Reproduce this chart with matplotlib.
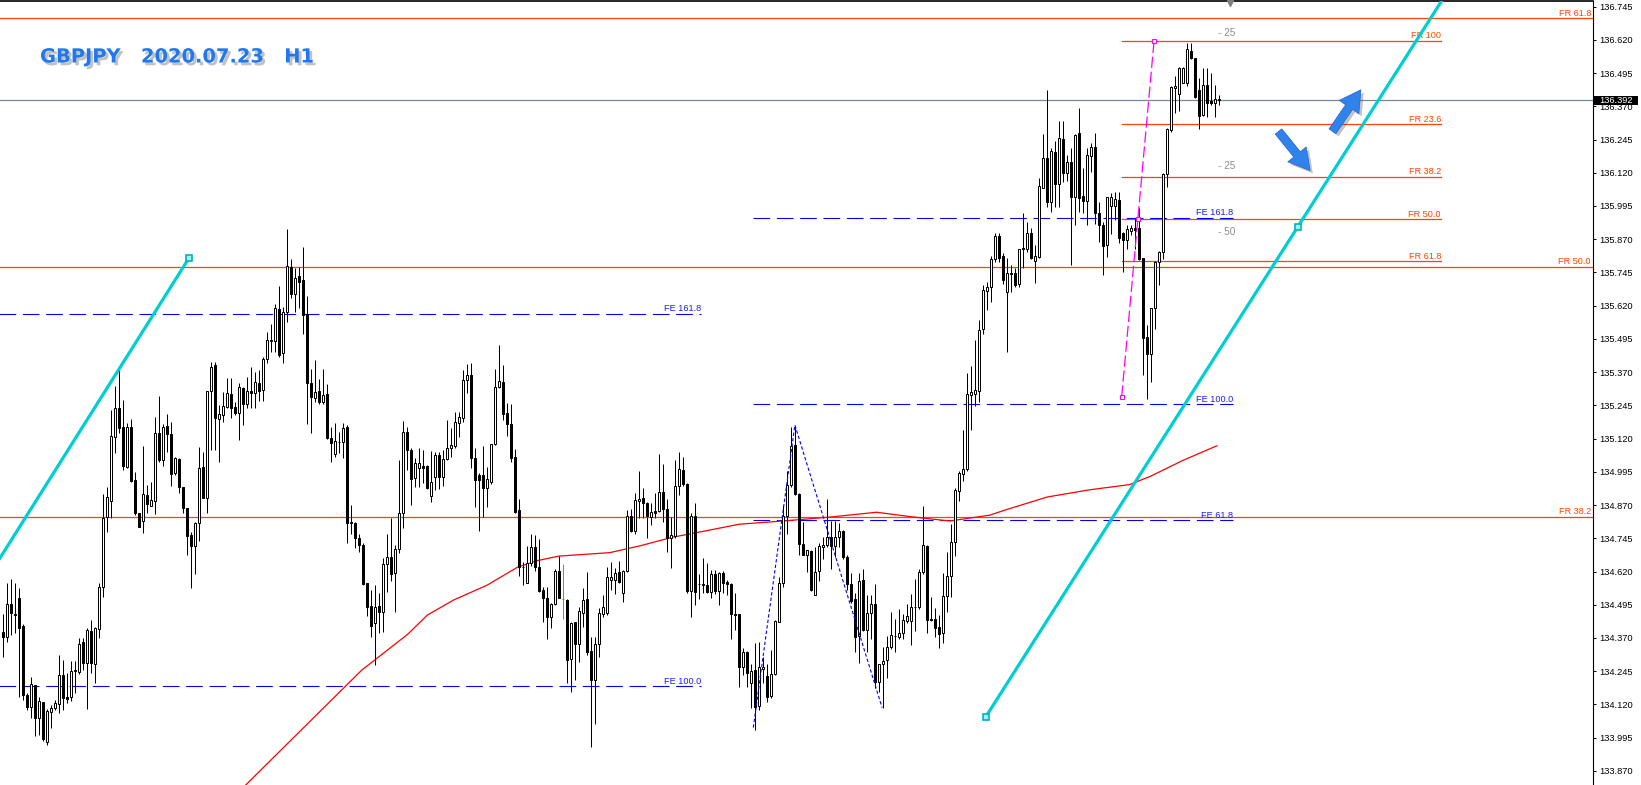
import matplotlib
matplotlib.use("Agg")
import matplotlib.pyplot as plt
import matplotlib.patheffects as pe
import matplotlib.transforms as mtransforms
from matplotlib.patches import FancyArrowPatch, Rectangle
import numpy as np

plt.rcParams['font.family'] = ['Liberation Sans', 'DejaVu Sans']

title_text = "GBPJPY   2020.07.23   H1"

# H1 candles, oldest first
opens = [
    134.391, 134.375, 134.497, 134.460, 134.519, 134.415, 134.155, 134.109, 134.193, 134.070,
    134.128, 133.980, 134.093, 134.105, 134.120, 134.231, 134.149, 134.147, 134.247, 134.241,
    134.354, 134.275, 134.396, 134.271, 134.404, 134.563, 134.826, 134.887, 135.127, 135.236,
    135.162, 135.014, 135.162, 134.964, 134.841, 134.811, 134.908, 134.868, 134.887, 135.140,
    135.040, 135.167, 135.137, 134.989, 135.043, 134.937, 134.858, 134.757, 134.717, 134.801,
    135.012, 134.898, 135.299, 135.397, 135.192, 135.209, 135.240, 135.286, 135.237, 135.215,
    135.309, 135.252, 135.299, 135.290, 135.328, 135.303, 135.418, 135.487, 135.488, 135.607,
    135.441, 135.595, 135.764, 135.663, 135.732, 135.716, 135.589, 135.330, 135.274, 135.299,
    135.256, 135.288, 135.121, 135.061, 135.106, 135.106, 135.165, 134.807, 134.804, 134.745,
    134.720, 134.575, 134.490, 134.425, 134.490, 134.469, 134.647, 134.676, 134.613, 134.704,
    134.839, 135.146, 135.077, 134.971, 135.011, 135.018, 135.017, 134.904, 134.974, 135.058,
    134.974, 135.043, 135.083, 135.092, 135.180, 135.196, 135.341, 135.359, 135.046, 134.983,
    134.983, 134.935, 134.958, 135.098, 135.313, 135.332, 135.215, 135.174, 135.050, 134.851,
    134.636, 134.576, 134.653, 134.714, 134.638, 134.550, 134.519, 134.450, 134.497, 134.622,
    134.517, 134.513, 134.290, 134.429, 134.346, 134.465, 134.517, 134.321, 134.212, 134.347,
    134.460, 134.463, 134.588, 134.588, 134.617, 134.540, 134.623, 134.829, 134.773, 134.884,
    134.896, 134.876, 134.826, 134.847, 134.847, 134.918, 134.857, 134.745, 134.753, 134.943,
    135.002, 134.951, 134.548, 134.829, 134.573, 134.568, 134.569, 134.544, 134.610, 134.548,
    134.615, 134.582, 134.573, 134.462, 134.460, 134.259, 134.316, 134.202, 134.249, 134.114,
    134.252, 134.227, 134.151, 134.234, 134.431, 134.575, 134.829, 134.945, 135.096, 134.911,
    134.723, 134.682, 134.698, 134.531, 134.622, 134.712, 134.720, 134.750, 134.715, 134.750,
    134.773, 134.675, 134.572, 134.516, 134.377, 134.587, 134.400, 134.463, 134.498, 134.203,
    134.274, 134.286, 134.335, 134.377, 134.372, 134.387, 134.433, 134.433, 134.486, 134.486,
    134.617, 134.715, 134.443, 134.440, 134.410, 134.387, 134.528, 134.604, 134.732, 134.924,
    134.987, 135.007, 135.284, 135.287, 135.299, 135.531, 135.676, 135.691, 135.797, 135.882,
    135.808, 135.672, 135.740, 135.741, 135.700, 135.838, 135.835, 135.892, 135.789, 135.804,
    136.064, 136.177, 136.011, 136.199, 136.076, 136.247, 136.120, 136.161, 136.030, 136.268,
    136.032, 136.015, 136.184, 136.215, 135.970, 135.923, 135.850, 135.996, 135.996, 136.017,
    135.892, 135.867, 135.901, 135.911, 135.911, 135.798, 135.503, 135.437, 135.610, 135.783,
    135.823, 136.114, 136.281, 136.440, 136.415, 136.459, 136.459, 136.578, 136.550, 136.431,
    136.337, 136.450, 136.391, 136.381, 136.396,
]
highs = [
    134.460, 134.578, 134.591, 134.576, 134.557, 134.423, 134.162, 134.222, 134.193, 134.149,
    134.128, 134.102, 134.118, 134.137, 134.306, 134.287, 134.237, 134.285, 134.285, 134.371,
    134.371, 134.406, 134.438, 134.413, 134.576, 134.910, 134.939, 135.228, 135.318, 135.393,
    135.264, 135.180, 135.193, 134.993, 134.841, 135.092, 134.946, 134.958, 135.200, 135.280,
    135.175, 135.213, 135.184, 135.052, 135.048, 134.939, 134.858, 134.770, 134.808, 135.087,
    135.068, 135.299, 135.409, 135.409, 135.246, 135.296, 135.347, 135.347, 135.259, 135.328,
    135.315, 135.350, 135.388, 135.369, 135.378, 135.428, 135.522, 135.551, 135.625, 135.694,
    135.614, 135.908, 135.795, 135.760, 135.767, 135.839, 135.656, 135.380, 135.416, 135.343,
    135.382, 135.325, 135.165, 135.177, 135.146, 135.177, 135.173, 134.870, 134.807, 134.763,
    134.726, 134.575, 134.550, 134.569, 134.538, 134.669, 134.761, 134.820, 134.720, 135.039,
    135.186, 135.165, 135.083, 135.046, 135.083, 135.077, 135.021, 135.073, 135.071, 135.071,
    135.077, 135.190, 135.159, 135.221, 135.221, 135.378, 135.399, 135.406, 135.083, 134.992,
    135.092, 135.014, 135.100, 135.382, 135.472, 135.397, 135.253, 135.249, 135.080, 134.892,
    134.657, 134.716, 134.761, 134.757, 134.741, 134.563, 134.561, 134.503, 134.628, 134.680,
    134.648, 134.515, 134.431, 134.431, 134.485, 134.557, 134.619, 134.375, 134.375, 134.482,
    134.532, 134.636, 134.657, 134.632, 134.661, 134.626, 134.851, 134.854, 134.914, 134.999,
    134.933, 134.883, 134.879, 134.916, 135.062, 135.024, 134.891, 134.824, 135.039, 135.071,
    135.049, 134.954, 134.839, 134.876, 134.610, 134.669, 134.651, 134.625, 134.625, 134.619,
    134.622, 134.588, 134.575, 134.540, 134.462, 134.331, 134.322, 134.271, 134.350, 134.356,
    134.299, 134.274, 134.324, 134.437, 134.600, 134.870, 134.999, 135.165, 135.167, 134.914,
    134.807, 134.701, 134.701, 134.712, 134.727, 134.750, 134.894, 134.811, 134.811, 134.803,
    134.776, 134.682, 134.614, 134.539, 134.614, 134.629, 134.531, 134.531, 134.572, 134.274,
    134.335, 134.377, 134.466, 134.440, 134.478, 134.459, 134.498, 134.534, 134.591, 134.629,
    134.866, 134.720, 134.526, 134.483, 134.455, 134.614, 134.694, 134.800, 134.934, 134.999,
    135.151, 135.367, 135.392, 135.491, 135.566, 135.699, 135.710, 135.808, 135.894, 135.894,
    135.818, 135.800, 135.773, 135.760, 135.835, 135.967, 135.936, 135.911, 135.848, 136.099,
    136.264, 136.431, 136.212, 136.239, 136.314, 136.314, 136.187, 136.212, 136.264, 136.365,
    136.136, 136.212, 136.230, 136.268, 136.011, 135.936, 136.030, 136.045, 136.049, 136.049,
    135.898, 135.923, 135.923, 135.948, 135.986, 135.800, 135.547, 135.612, 135.788, 135.825,
    136.118, 136.289, 136.447, 136.485, 136.516, 136.519, 136.607, 136.607, 136.553, 136.475,
    136.513, 136.515, 136.494, 136.450, 136.412,
]
lows = [
    134.300, 134.356, 134.381, 134.387, 134.149, 134.137, 134.099, 134.068, 134.001, 134.005,
    133.984, 133.967, 134.033, 134.099, 134.089, 134.099, 134.124, 134.133, 134.162, 134.234,
    134.250, 134.102, 134.237, 134.202, 134.369, 134.523, 134.770, 134.820, 135.065, 135.140,
    135.002, 135.008, 134.958, 134.833, 134.789, 134.764, 134.839, 134.868, 134.836, 135.031,
    135.017, 135.070, 134.943, 134.983, 134.914, 134.839, 134.682, 134.559, 134.609, 134.736,
    134.898, 134.839, 135.077, 135.077, 135.033, 135.184, 135.234, 135.196, 135.209, 135.115,
    135.171, 135.234, 135.236, 135.236, 135.261, 135.261, 135.403, 135.444, 135.447, 135.428,
    135.403, 135.557, 135.647, 135.597, 135.612, 135.512, 135.175, 135.142, 135.259, 135.252,
    135.252, 135.118, 135.033, 135.052, 135.064, 135.048, 134.728, 134.763, 134.707, 134.694,
    134.569, 134.452, 134.375, 134.268, 134.387, 134.393, 134.544, 134.584, 134.469, 134.688,
    134.782, 135.002, 134.870, 134.939, 134.939, 134.952, 134.929, 134.883, 134.927, 134.929,
    134.943, 135.040, 135.050, 135.083, 135.127, 135.184, 135.290, 135.008, 134.864, 134.772,
    134.826, 134.864, 134.949, 135.096, 135.309, 135.190, 135.130, 135.033, 134.839, 134.604,
    134.569, 134.576, 134.641, 134.623, 134.544, 134.431, 134.365, 134.406, 134.494, 134.519,
    134.440, 134.199, 134.166, 134.212, 134.281, 134.413, 134.306, 133.961, 134.046, 134.300,
    134.450, 134.456, 134.550, 134.535, 134.575, 134.506, 134.619, 134.770, 134.763, 134.820,
    134.820, 134.745, 134.795, 134.820, 134.845, 134.807, 134.694, 134.635, 134.745, 134.908,
    134.941, 134.538, 134.450, 134.494, 134.515, 134.538, 134.538, 134.519, 134.535, 134.494,
    134.540, 134.531, 134.365, 134.400, 134.184, 134.230, 134.184, 134.105, 134.024, 134.099,
    134.199, 134.130, 134.143, 134.230, 134.431, 134.563, 134.763, 134.939, 134.908, 134.682,
    134.682, 134.619, 134.548, 134.531, 134.584, 134.667, 134.712, 134.629, 134.675, 134.712,
    134.667, 134.549, 134.501, 134.316, 134.277, 134.395, 134.319, 134.368, 134.183, 134.165,
    134.105, 134.221, 134.327, 134.319, 134.365, 134.368, 134.428, 134.342, 134.395, 134.478,
    134.610, 134.387, 134.433, 134.372, 134.332, 134.353, 134.468, 134.523, 134.679, 134.886,
    134.962, 134.999, 135.151, 135.241, 135.256, 135.513, 135.604, 135.634, 135.785, 135.785,
    135.702, 135.445, 135.672, 135.691, 135.691, 135.760, 135.823, 135.795, 135.704, 135.798,
    136.061, 135.992, 135.971, 135.992, 135.992, 136.086, 136.089, 135.773, 135.923, 135.973,
    135.967, 135.923, 136.124, 135.929, 135.861, 135.735, 135.804, 135.888, 135.942, 135.854,
    135.745, 135.835, 135.886, 135.835, 135.792, 135.359, 135.269, 135.334, 135.534, 135.697,
    135.795, 136.067, 136.274, 136.343, 136.352, 136.456, 136.447, 136.546, 136.400, 136.284,
    136.335, 136.331, 136.375, 136.331, 136.375,
]
closes = [
    134.375, 134.497, 134.463, 134.455, 134.406, 134.155, 134.112, 134.196, 134.070, 134.133,
    133.989, 134.095, 134.105, 134.124, 134.231, 134.143, 134.142, 134.247, 134.250, 134.347,
    134.275, 134.400, 134.275, 134.406, 134.561, 134.820, 134.899, 135.131, 135.236, 135.161,
    135.017, 135.162, 134.962, 134.839, 134.789, 134.910, 134.873, 134.889, 135.140, 135.040,
    135.162, 135.137, 134.987, 135.046, 134.937, 134.860, 134.754, 134.717, 134.801, 135.008,
    134.898, 135.299, 135.390, 135.196, 135.212, 135.242, 135.290, 135.234, 135.215, 135.313,
    135.252, 135.299, 135.290, 135.331, 135.299, 135.418, 135.491, 135.491, 135.610, 135.434,
    135.595, 135.769, 135.663, 135.723, 135.710, 135.585, 135.328, 135.278, 135.296, 135.256,
    135.284, 135.121, 135.105, 135.112, 135.106, 135.158, 134.804, 134.801, 134.745, 134.720,
    134.572, 134.488, 134.416, 134.488, 134.469, 134.647, 134.676, 134.609, 134.704, 134.839,
    135.143, 135.077, 134.967, 135.027, 135.027, 135.011, 134.933, 134.956, 135.058, 134.977,
    135.043, 135.083, 135.096, 135.181, 135.203, 135.341, 135.359, 135.046, 134.964, 134.964,
    134.935, 134.967, 135.098, 135.313, 135.337, 135.213, 135.174, 135.046, 134.845, 134.636,
    134.636, 134.653, 134.714, 134.638, 134.548, 134.519, 134.450, 134.497, 134.622, 134.522,
    134.517, 134.287, 134.428, 134.346, 134.471, 134.513, 134.319, 134.212, 134.347, 134.463,
    134.485, 134.598, 134.598, 134.613, 134.582, 134.623, 134.829, 134.773, 134.889, 134.893,
    134.876, 134.829, 134.844, 134.842, 134.918, 134.857, 134.745, 134.757, 134.943, 135.004,
    134.951, 134.548, 134.829, 134.544, 134.573, 134.573, 134.544, 134.610, 134.548, 134.615,
    134.578, 134.573, 134.462, 134.456, 134.259, 134.316, 134.237, 134.245, 134.111, 134.262,
    134.262, 134.149, 134.233, 134.435, 134.575, 134.829, 134.945, 135.092, 134.911, 134.723,
    134.682, 134.701, 134.550, 134.617, 134.715, 134.720, 134.750, 134.715, 134.750, 134.773,
    134.675, 134.572, 134.508, 134.372, 134.584, 134.400, 134.463, 134.498, 134.203, 134.274,
    134.285, 134.335, 134.380, 134.377, 134.387, 134.437, 134.452, 134.486, 134.486, 134.619,
    134.720, 134.437, 134.437, 134.407, 134.384, 134.528, 134.604, 134.732, 134.927, 134.989,
    135.007, 135.287, 135.294, 135.302, 135.528, 135.679, 135.690, 135.797, 135.882, 135.800,
    135.717, 135.743, 135.740, 135.697, 135.832, 135.832, 135.892, 135.800, 135.807, 136.070,
    136.177, 136.011, 136.202, 136.076, 136.249, 136.120, 136.161, 136.030, 136.262, 136.024,
    136.015, 136.187, 136.215, 135.970, 135.923, 135.845, 136.027, 136.027, 136.020, 135.873,
    135.867, 135.908, 135.911, 135.904, 135.795, 135.499, 135.440, 135.610, 135.785, 135.820,
    136.114, 136.283, 136.441, 136.446, 136.513, 136.513, 136.584, 136.550, 136.406, 136.335,
    136.450, 136.381, 136.381, 136.396, 136.392,
]
marked_bar = 140          # the one candle drawn in green

# moving average, sampled along the red line (bar index, price)
ma_x = [60.8, 89.8, 101.3, 106.2, 112.8, 121.2, 128.7, 133.7, 139.1, 151.8, 159.2, 167.5, 175.8,
        184.2, 195.1, 207.7, 218.5, 227.7, 236.8, 246.8, 250.6, 261.1, 271.6, 281.8, 287.1,
        295.1, 303.6]
ma_y = [133.817, 134.249, 134.384, 134.456, 134.513, 134.569, 134.636, 134.661, 134.678, 134.691,
        134.716, 134.749, 134.773, 134.798, 134.810, 134.826, 134.843, 134.825, 134.810, 134.832,
        134.851, 134.900, 134.927, 134.947, 134.979, 135.038, 135.093]

price_ticks = [136.745, 136.620, 136.495, 136.370, 136.245, 136.120, 135.995, 135.870,
               135.745, 135.620, 135.495, 135.370, 135.245, 135.120, 134.995, 134.870,
               134.745, 134.620, 134.495, 134.370, 134.245, 134.120, 133.995, 133.870]
last_price = 136.392

fr_long = [136.701, 135.767, 134.826]
fr_long_labels = ['FR 61.8', 'FR 50.0', 'FR 38.2']
fr_short = [136.617, 136.303, 136.104, 135.945, 135.788]
fr_short_labels = ['FR 100', 'FR 23.6', 'FR 38.2', 'FR 50.0', 'FR 61.8']
fr_short_span = (279.8, 359.6)

fe_left = [135.589, 134.188]
fe_left_labels = ['FE 161.8', 'FE 100.0']
fe_left_span = (-1.0, 174.6)
fe_right = [135.951, 135.249, 134.813]
fe_right_labels = ['FE 161.8', 'FE 100.0', 'FE 61.8']
fe_right_span = (187.7, 307.6)

zigzag_x = [187.7, 198.1, 219.9]
zigzag_y = [134.033, 135.171, 134.108]

swing_x = [279.8, 287.9]
swing_y = [135.278, 136.617]
swing_mid = (283.9, 135.945)

trend1_x = [-2.0, 46.7]
trend1_y = [134.638, 135.801]
trend2_x = [245.8, 323.8]
trend2_y = [134.073, 135.916]

gray_marks = [136.645, 136.147, 135.896]
gray_texts = ['- 25', '- 25', '- 50']

arrow_tails = [(319.0, 136.275), (332.5, 136.276)]
arrow_tips = [(326.9, 136.128), (339.6, 136.432)]

ORANGE = '#ff4500'
BLUE = '#0000ff'
CYAN = '#00ced1'

fig = plt.figure(figsize=(16.41, 7.85), dpi=100, facecolor='white')
ax = fig.add_axes([0, 0, 1593 / 1641, 784 / 785])
ax.set_facecolor('white')
# bar k sits on the pixel centre 2.5 + 4k
ax.set_xlim(-0.625, 397.625)
ax.set_ylim(133.817, 136.766)

for s in ('left', 'bottom'):
    ax.spines[s].set_visible(False)
ax.spines['top'].set_linewidth(1.2)
ax.spines['right'].set_linewidth(0.8)
ax.set_xticks([])
ax.yaxis.tick_right()
ax.set_yticks(price_ticks)
ax.set_yticklabels(['%.3f' % v for v in price_ticks])
ax.tick_params(axis='y', direction='out', length=2.5, width=0.7, pad=2.2,
               labelsize=6.7, colors='black')

lbl = mtransforms.offset_copy(ax.transData, fig=fig, x=0, y=2.5, units='dots')

# long retracement levels and the current price line
for y, t in zip(fr_long, fr_long_labels):
    ax.axhline(y, color=ORANGE, lw=0.9, zorder=2)
    ax.text(397.1, y, t, color=ORANGE, fontsize=6.6, ha='right', va='baseline', transform=lbl)
ax.axhline(last_price, color='#778899', lw=0.9, zorder=2)

for y, t in zip(fr_short, fr_short_labels):
    ax.plot(fr_short_span, [y, y], color=ORANGE, lw=0.9, zorder=2)
    ax.text(fr_short_span[1], y, t, color=ORANGE, fontsize=6.6, ha='right', va='baseline',
            transform=lbl)

for levels, names, span in ((fe_left, fe_left_labels, fe_left_span),
                            (fe_right, fe_right_labels, fe_right_span)):
    for y, t in zip(levels, names):
        ax.plot(span, [y, y], color=BLUE, lw=0.8, dashes=(15, 6), zorder=2)
        ax.text(span[1], y, t, color='#1a1aff', fontsize=6.6, ha='right', va='baseline',
                transform=lbl)

for y, t in zip(gray_marks, gray_texts):
    ax.text(303.8, y, t, color='#8c8c8c', fontsize=7.2, ha='left', va='center')

ax.plot(ma_x, ma_y, color='#ff0000', lw=0.9, zorder=2)

# candles: 1 px wick, 3 px body (1 px outline + 1 px fill)
idx = np.arange(len(closes))
o = np.array(opens)
h = np.array(highs)
l = np.array(lows)
c = np.array(closes)
rising = c > o
edge = ['#00dd00' if i == marked_bar else 'black' for i in idx]
face = ['#00dd00' if i == marked_bar else ('white' if rising[i] else 'black') for i in idx]
ax.vlines(idx, l, h, colors=edge, linewidth=0.72, zorder=3)
ax.bar(idx, np.maximum(np.abs(c - o), 0.001), bottom=np.minimum(o, c), width=0.5,
       color=face, edgecolor=edge, linewidth=0.72, zorder=4)

# hand-drawn objects
ax.plot(zigzag_x, zigzag_y, color=BLUE, lw=0.8, dashes=(3, 2), zorder=5)
ax.plot(swing_x, swing_y, color='#ff00ff', lw=0.9, dashes=(9, 3), zorder=5)
ax.plot(swing_x + [swing_mid[0]], swing_y + [swing_mid[1]], 's', ms=3.5, mfc='white',
        mec='#ff00ff', mew=0.8, zorder=6)

ax.plot(trend1_x, trend1_y, color=CYAN, lw=2.3, zorder=5, solid_capstyle='butt')
slope = (trend2_y[1] - trend2_y[0]) / (trend2_x[1] - trend2_x[0])
ray_end = 400.0
ax.plot([trend2_x[0], ray_end], [trend2_y[0], trend2_y[0] + slope * (ray_end - trend2_x[0])],
        color=CYAN, lw=2.3, zorder=5, solid_capstyle='butt')
ax.plot([trend1_x[1], trend2_x[0], trend2_x[1]], [trend1_y[1], trend2_y[0], trend2_y[1]], 's',
        ms=4.5, mfc='#a8f0f0', mec='#00b4bc', mew=1.2, zorder=6)

for tail, tip in zip(arrow_tails, arrow_tips):
    arr = FancyArrowPatch(tail, tip, arrowstyle='simple,head_length=15,head_width=17,tail_width=6',
                          mutation_scale=1, shrinkA=0, shrinkB=0, facecolor='#3183ec',
                          edgecolor='#1c63d6', lw=0.5, zorder=8,
                          path_effects=[pe.withSimplePatchShadow(offset=(2, -2),
                                                                 shadow_rgbFace='#555555',
                                                                 alpha=0.35)])
    ax.add_patch(arr)

# chart shift marker at the top edge
ax.plot([306.8], [136.757], marker='v', color='#808080', ms=5, clip_on=False, zorder=9)

# current price box on the scale
bt = mtransforms.blended_transform_factory(ax.transAxes, ax.transData)
ax.add_patch(Rectangle((1.0005, last_price - 0.0175), (1637 - 1593) / 1593, 0.035,
                       transform=bt, facecolor='black', edgecolor='none', clip_on=False,
                       zorder=10))
ax.text(1599 / 1593, last_price, '%.3f' % last_price, transform=bt, color='white',
        fontsize=6.7, ha='left', va='center', clip_on=False, zorder=11)

fig.text(40 / 1641, 1 - 62.5 / 785, title_text, fontsize=14, fontweight='bold',
         family='DejaVu Sans', color='#1f78ef', ha='left', va='baseline',
         path_effects=[pe.withSimplePatchShadow(offset=(2, -2), shadow_rgbFace='#777777',
                                                alpha=0.45)])

fig.savefig('out.png', dpi=100, facecolor='white')
